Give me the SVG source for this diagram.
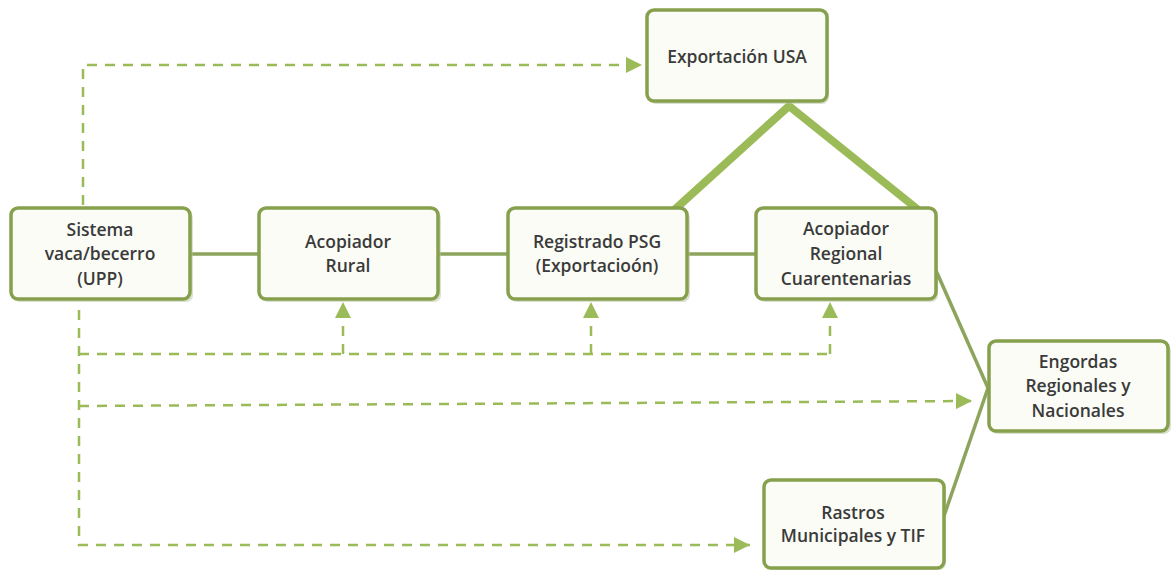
<svg xmlns="http://www.w3.org/2000/svg" width="1172" height="570" viewBox="0 0 1172 570">
<style>
.box{fill:#FBFCF6;stroke:#86A04E;stroke-width:3.5}
.sh{fill:#B8C49E;opacity:0.5}
.t{font-family:"Open Sans","Liberation Sans",sans-serif;font-size:17.5px;font-weight:600;fill:#3a3a3a;text-anchor:middle}
.solid{stroke:#8DA45C;stroke-width:3.5;fill:none}
.thick{stroke:#9BBB59;stroke-width:8;fill:none}
.dash{stroke:#9BBB59;stroke-width:2.5;fill:none;stroke-dasharray:10 8}
</style>
<defs>
<marker id="ah" viewBox="0 0 10 10" refX="10" refY="5" markerWidth="16" markerHeight="16" markerUnits="userSpaceOnUse" orient="auto">
<path d="M0,0 L10,5 L0,10 z" fill="#9BBB59"/>
</marker>
</defs>
<rect width="1172" height="570" fill="#fff"/>
<g id="connectors">
<line class="solid" x1="190" y1="254" x2="259" y2="254"/>
<line class="solid" x1="438" y1="254" x2="508" y2="254"/>
<line class="solid" x1="687" y1="254" x2="756" y2="254"/>
<polyline class="thick" points="672,212 789,106 921,212"/>
<line class="solid" x1="934" y1="266" x2="988" y2="388"/>
<line class="solid" x1="944" y1="516" x2="988" y2="388"/>
<polyline class="dash" points="83,205 83,65 642,65" marker-end="url(#ah)"/>
<polyline class="dash" points="79,310 79,545 750,545" marker-end="url(#ah)"/>
<line class="dash" x1="79" y1="354" x2="830" y2="354"/>
<line class="dash" x1="343" y1="354" x2="343" y2="302" marker-end="url(#ah)"/>
<line class="dash" x1="591" y1="354" x2="591" y2="302" marker-end="url(#ah)"/>
<line class="dash" x1="830" y1="354" x2="830" y2="302" marker-end="url(#ah)"/>
<line class="dash" x1="79" y1="406" x2="972" y2="401" marker-end="url(#ah)"/>
</g>
<g id="n-sistema">
<rect class="sh" x="13" y="211" width="180" height="91" rx="7"/>
<rect class="box" x="11" y="208" width="179" height="91" rx="7"/>
<text class="t" x="100" y="236">Sistema</text>
<text class="t" x="100" y="260">vaca/becerro</text>
<text class="t" x="100" y="285">(UPP)</text>
</g>
<g id="n-rural">
<rect class="sh" x="261" y="211" width="180" height="91" rx="7"/>
<rect class="box" x="259" y="208" width="179" height="91" rx="7"/>
<text class="t" x="348" y="248">Acopiador</text>
<text class="t" x="348" y="272">Rural</text>
</g>
<g id="n-psg">
<rect class="sh" x="510" y="211" width="180" height="91" rx="7"/>
<rect class="box" x="508" y="208" width="179" height="91" rx="7"/>
<text class="t" x="597" y="248">Registrado PSG</text>
<text class="t" x="597" y="272">(Exportacioón)</text>
</g>
<g id="n-regional">
<rect class="sh" x="758" y="211" width="180" height="91" rx="7"/>
<rect class="box" x="756" y="208" width="180" height="91" rx="7"/>
<text class="t" x="846" y="235">Acopiador</text>
<text class="t" x="846" y="260">Regional</text>
<text class="t" x="846" y="285">Cuarentenarias</text>
</g>
<g id="n-usa">
<rect class="sh" x="649" y="13" width="180" height="91" rx="7"/>
<rect class="box" x="647" y="10" width="180" height="91" rx="7"/>
<text class="t" x="737" y="63">Exportación USA</text>
</g>
<g id="n-engordas">
<rect class="sh" x="991" y="344" width="180" height="90" rx="7"/>
<rect class="box" x="989" y="341" width="179" height="90" rx="7"/>
<text class="t" x="1078" y="368">Engordas</text>
<text class="t" x="1078" y="392">Regionales y</text>
<text class="t" x="1078" y="417">Nacionales</text>
</g>
<g id="n-rastros">
<rect class="sh" x="766" y="483" width="180" height="87" rx="7"/>
<rect class="box" x="764" y="480" width="180" height="88" rx="7"/>
<text class="t" x="853" y="519">Rastros</text>
<text class="t" x="853" y="542">Municipales y TIF</text>
</g>
</svg>
